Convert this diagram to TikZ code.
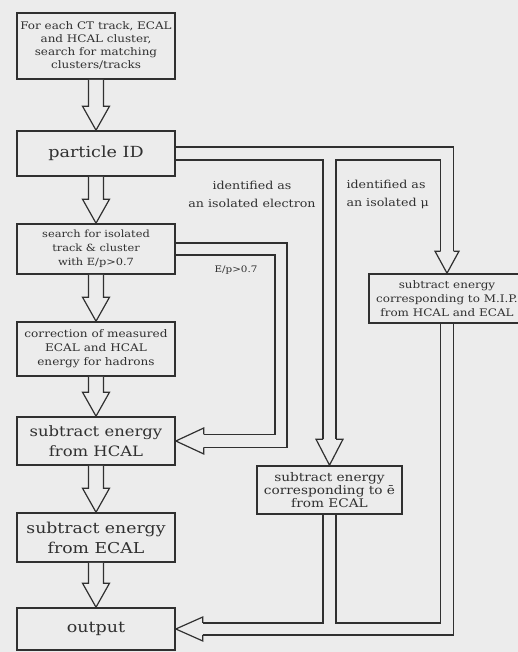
\documentclass[tikz,border=0pt]{standalone}
\usepackage{fontspec}
\setmainfont[FakeStretch=1.15]{DejaVu Serif}
\usetikzlibrary{positioning, calc}

\definecolor{paper}{RGB}{236,236,236}
\definecolor{ink}{RGB}{48,48,48}
\newcommand{\fs}[2]{\fontsize{#1}{#2}\selectfont}

\tikzset{
  box/.style={draw=ink, line width=1.6pt, minimum width=158pt, inner sep=1pt, align=center, text=ink},
  wall/.style={draw=ink, line width=1.2pt, line join=miter},
  lbl/.style={text=ink, align=center, font=\fs{11}{18}},
}

% hollow arrow straight down from one box to the next
\newcommand{\hollowdown}[2]{%
  \draw[wall, fill=paper] ($(#1.south)+(-7.5,0)$) -- ($(#2.north)+(-7.5,24)$) -- ($(#2.north)+(-13.5,24)$)
    -- (#2.north) -- ($(#2.north)+(13.5,24)$) -- ($(#2.north)+(7.5,24)$) -- ($(#1.south)+(7.5,0)$);}
% open head only: node, half shaft, half head, length
\newcommand{\headdown}[4]{%
  \draw[wall, fill=paper] ($(#1.north)+(-#2,#4)$) -- ($(#1.north)+(-#3,#4)$) -- (#1.north)
    -- ($(#1.north)+(#3,#4)$) -- ($(#1.north)+(#2,#4)$);}
\newcommand{\headleft}[4]{%
  \draw[wall, fill=paper] ($(#1.east)+(#4,#2)$) -- ($(#1.east)+(#4,#3)$) -- (#1.east)
    -- ($(#1.east)+(#4,-#3)$) -- ($(#1.east)+(#4,-#2)$);}

\begin{document}
\begin{tikzpicture}[x=1pt, y=1pt]
\fill[paper] (0,0) rectangle (518,652);
\useasboundingbox (0,0) rectangle (518,652);
\clip (0,0) rectangle (518,652);

\node[box, minimum height=66pt, font=\fs{10.4}{13}] (top) at (96,606) {For each CT track, ECAL\\and HCAL cluster,\\search for matching\\clusters/tracks};
\node[box, minimum height=45pt, font=\fs{15.3}{18}] (pid) at (96,498.5) {particle ID};
\node[box, minimum height=50pt, font=\fs{9.9}{14}] (search) at (96,403) {search for isolated\\track \& cluster\\with E/p>0.7};
\node[box, minimum height=54pt, font=\fs{10.5}{14}] (corr) at (96,303) {correction of measured\\ECAL and HCAL\\energy for hadrons};
\node[box, minimum height=48pt, font=\fs{14.3}{20}] (hcal) at (96,211) {subtract energy\\from HCAL};
\node[box, minimum height=49pt, font=\fs{15}{20}] (ecal) at (96,114.5) {subtract energy\\from ECAL};
\node[box, minimum height=42pt, font=\fs{15.2}{18}] (out) at (96,23) {output};

\node[box, minimum width=156pt, minimum height=49pt, font=\fs{10.4}{14}] (mip) at (447,353.5) {subtract energy\\corresponding to M.I.P.\\from HCAL and ECAL};
\node[box, minimum width=145pt, minimum height=48pt, font=\fs{11.9}{13}] (ebox) at (329.5,162) {subtract energy\\corresponding to ē\\from ECAL};

\node[lbl] (elab) at (252,458) {identified as\\an isolated electron};
\node[lbl, align=left, anchor=west] (mulab) at (343,458) {identified as\\an isolated μ};
\node[lbl, font=\fs{9}{10}] (eplab) at (236,382) {E/p>0.7};

\foreach \a/\b in {top/pid, pid/search, search/corr, corr/hcal, hcal/ecal, ecal/out}
  \hollowdown{\a}{\b};

\coordinate (abot) at ($(pid.east)+(0,-6.5)$);
\draw[wall] ($(pid.east)+(0,6.5)$) -| ($(mip.north)+(6.5,22)$);
\draw[wall] (abot) -| ($(ebox.north)+(-6.5,26)$);
\draw[wall] ($(ebox.north)+(6.5,26)$) -- ($(ebox.north |- abot)+(6.5,0)$) -- ($(mip.north |- abot)+(-6.5,0)$) -- ($(mip.north)+(-6.5,22)$);
\headdown{ebox}{6.5}{13.5}{26}
\headdown{mip}{6.5}{12}{22}

\coordinate (bv) at (281,0);
\draw[wall] ($(search.east)+(0,6)$) -| ($(bv |- hcal.east)+(6,-6.5)$) -- ($(hcal.east)+(28,-6.5)$);
\draw[wall] ($(search.east)+(0,-6)$) -| ($(bv |- hcal.east)+(-6,6.5)$) -- ($(hcal.east)+(28,6.5)$);
\headleft{hcal}{6.5}{13}{28}

\draw[wall] ($(mip.south)+(6.5,0)$) |- ($(out.east)+(27,-6)$);
\draw[wall] ($(ebox.south)+(-6.5,0)$) |- ($(out.east)+(27,6)$);
\draw[wall] ($(ebox.south)+(6.5,0)$) |- ($(mip.south |- out.east)+(-6.5,6)$) -- ($(mip.south)+(-6.5,0)$);
\headleft{out}{6}{12}{27}

\end{tikzpicture}
\end{document}
